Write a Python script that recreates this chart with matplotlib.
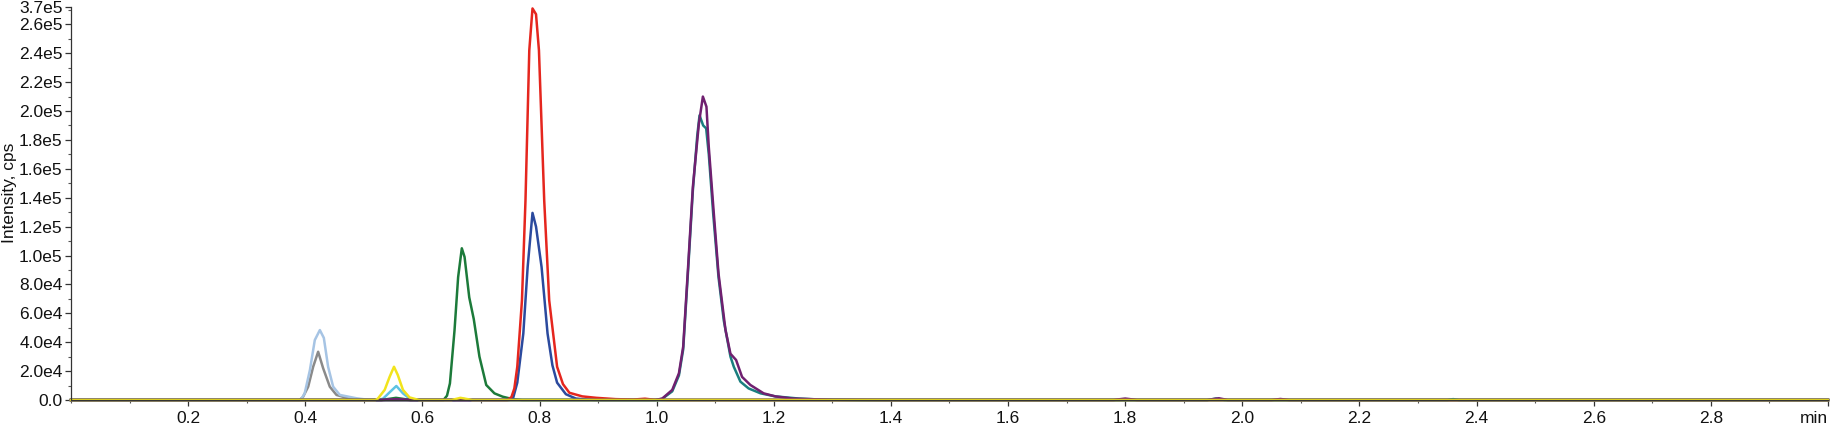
import matplotlib
matplotlib.use("Agg")
import matplotlib.pyplot as plt
from matplotlib.ticker import MultipleLocator

plt.rcParams['font.family'] = ['Liberation Sans', 'DejaVu Sans']

# ---- data (time in min, intensity in cps) ----
t_gray = [0.0, 0.39, 0.396, 0.405, 0.4135, 0.422, 0.4305, 0.4419, 0.4533, 0.475, 0.50, 3.0]
i_gray = [0, 0, 2000, 9200, 23000, 33400, 22000, 9200, 3500, 1000, 0, 0]

t_lightblue = [0.0, 0.39, 0.3937, 0.399, 0.4079, 0.4163, 0.4249, 0.4317, 0.439, 0.4476, 0.459, 0.4874, 0.51, 3.0]
i_lightblue = [0, 0, 1000, 4600, 20700, 41500, 48400, 43000, 23000, 9200, 3500, 1200, 0, 0]

t_cyan = [0.0, 0.525, 0.533, 0.545, 0.5555, 0.5668, 0.578, 0.59, 0.655, 0.667, 0.68, 3.0]
i_cyan = [0, 0, 1000, 5700, 9700, 4600, 1000, 0, 0, 1000, 0, 0]

t_green = [0.0, 0.53, 0.555, 0.58, 0.636, 0.642, 0.647, 0.6548, 0.661, 0.6673, 0.672, 0.676,
           0.680, 0.6877, 0.6974, 0.709, 0.723, 0.737, 0.755, 0.77, 3.0]
i_green = [0, 0, 1500, 0, 0, 3000, 11500, 48000, 85000, 105000, 99000, 85000,
           71000, 56000, 30000, 10400, 4600, 2300, 500, 0, 0]

t_blue = [0.0, 0.748, 0.755, 0.762, 0.7723, 0.7797, 0.788, 0.794, 0.8035, 0.8137, 0.822,
          0.830, 0.845, 0.862, 0.88, 0.90, 3.0]
i_blue = [0, 0, 1500, 12000, 46000, 92000, 129500, 120000, 92000, 46000, 24000,
          12000, 4000, 1000, 300, 0, 0]

t_red = [0.0, 0.745, 0.752, 0.757, 0.762, 0.770, 0.776, 0.7825, 0.788, 0.794, 0.799, 0.808,
         0.8165, 0.830, 0.840, 0.851, 0.873, 0.897, 0.93, 0.96, 0.98, 0.995, 1.02, 3.0]
i_red = [0, 0, 2000, 8000, 23000, 69000, 138000, 242000, 271000, 267000, 242000, 138000,
         69000, 23000, 11000, 5000, 2500, 1500, 600, 300, 900, 200, 0, 0]

t_teal = [0.0, 0.998, 1.0095, 1.0266, 1.038, 1.0453, 1.054, 1.0618, 1.0693, 1.0732, 1.0794,
          1.0845, 1.089, 1.0965, 1.1056, 1.1146, 1.126, 1.1317, 1.143, 1.157, 1.1775, 1.2026,
          1.243, 1.28, 1.35, 1.94, 1.955, 1.97, 2.35, 2.36, 2.37, 3.0]
i_teal = [0, 0, 800, 6000, 17000, 35000, 92000, 145000, 183000, 197000, 190000,
          188000, 170000, 129000, 85000, 55000, 30000, 23000, 12700, 8000, 4600, 2500,
          1000, 300, 0, 0, 1000, 0, 0, 600, 0, 0]

t_purple = [0.0, 0.53, 0.555, 0.58, 0.998, 1.0095, 1.0266, 1.038, 1.0453, 1.054, 1.0618, 1.072,
            1.0789, 1.085, 1.089, 1.0976, 1.1056, 1.1175, 1.126, 1.1356, 1.1458, 1.16, 1.1827,
            1.2026, 1.232, 1.27, 1.30, 1.40, 1.78, 1.80, 1.82, 1.94, 1.96, 1.975, 2.05, 2.065,
            2.08, 3.0]
i_purple = [0, 0, 600, 0, 0, 1000, 7000, 18500, 37000, 94500, 147500, 191000,
            210000, 203000, 175000, 129000, 87500, 48500, 32000, 27700, 16000, 10400, 4600,
            2500, 1000, 500, 200, 0, 0, 1000, 0, 0, 1200, 0, 0, 700,
            0, 0]

t_yellow = [0.0, 0.52, 0.524, 0.5356, 0.544, 0.5515, 0.558, 0.5668, 0.578, 0.594, 0.65, 0.665, 0.685, 3.0]
i_yellow = [0, 0, 1000, 7000, 16000, 23000, 17300, 7000, 1800, 0, 0, 1500, 0, 0]

y_ticks = [0, 20000, 40000, 60000, 80000, 100000, 120000, 140000, 160000, 180000,
           200000, 220000, 240000, 260000]
y_tick_labels = ["0.0", "2.0e4", "4.0e4", "6.0e4", "8.0e4", "1.0e5", "1.2e5", "1.4e5",
                 "1.6e5", "1.8e5", "2.0e5", "2.2e5", "2.4e5", "2.6e5"]
y_top_label = "3.7e5"
x_ticks = [0.2, 0.4, 0.6, 0.8, 1.0, 1.2, 1.4, 1.6, 1.8, 2.0, 2.2, 2.4, 2.6, 2.8, 3.0]
x_tick_labels = ["0.2", "0.4", "0.6", "0.8", "1.0", "1.2", "1.4", "1.6", "1.8", "2.0",
                 "2.2", "2.4", "2.6", "2.8", "min"]

series = [
    (t_gray, i_gray, "#8a8a8a"),
    (t_lightblue, i_lightblue, "#a6c4e4"),
    (t_cyan, i_cyan, "#5ec3e3"),
    (t_green, i_green, "#1c7a3a"),
    (t_blue, i_blue, "#2b4a9e"),
    (t_red, i_red, "#e5261e"),
    (t_teal, i_teal, "#1a7f7f"),
    (t_purple, i_purple, "#702070"),
    (t_yellow, i_yellow, "#f2e41c"),
]

fig = plt.figure(figsize=(18.33, 4.28), dpi=100)
ax = fig.add_axes([71 / 1833, 1 - 400 / 428, (1828 - 71) / 1833, (400 - 7) / 428])

for t, y, c in series:
    ax.plot(t, y, color=c, lw=1.8, solid_joinstyle='round')

ymax = 272000
ax.set_xlim(0, 3.0)
ax.set_ylim(0, ymax)
for ln in ax.lines:
    ln.set_clip_on(False)

ax.set_yticks(y_ticks + [ymax])
ax.set_yticklabels(y_tick_labels + [y_top_label])
ax.yaxis.set_minor_locator(MultipleLocator(10000))
ax.set_xticks(x_ticks)
ax.set_xticklabels(x_tick_labels)
ax.xaxis.set_minor_locator(MultipleLocator(0.1))
ax.get_xticklabels()[-1].set_ha('right')

for s in ['top', 'right']:
    ax.spines[s].set_visible(False)
for s in ['left', 'bottom']:
    ax.spines[s].set_color('#333333')
    ax.spines[s].set_linewidth(0.9)

ax.tick_params(axis='both', which='major', direction='out', length=4, width=0.9,
               colors='#333333', labelcolor='#111111', labelsize=12.5)
ax.tick_params(axis='both', which='minor', direction='out', length=2.5, width=0.8, colors='#555555')
ax.tick_params(axis='y', pad=2)
ax.tick_params(axis='x', pad=4)

ax.set_ylabel("Intensity, cps", fontsize=12.5, color='#111111')
ax.yaxis.set_label_coords(-0.031, 0.527)

fig.savefig("out.png", dpi=100, facecolor='white')
